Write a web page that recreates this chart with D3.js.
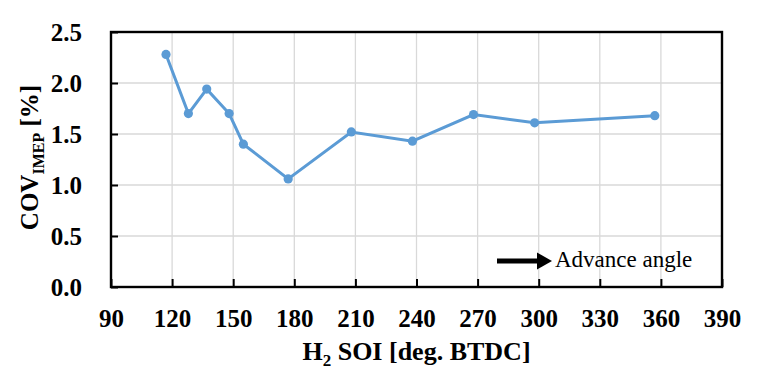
<!DOCTYPE html>
<html lang="en">
<meta charset="UTF-8">
<script src="https://d3js.org/d3.v7.min.js"></script>
<body style="margin:0;background:#fff">
<div id="chart"></div>
<script>
// data
const soi = [117, 128, 137, 148, 155, 177, 208, 238, 268, 298, 357];
const cov = [2.28, 1.70, 1.94, 1.70, 1.40, 1.06, 1.52, 1.43, 1.69, 1.61, 1.68];
const xTicks = [90, 120, 150, 180, 210, 240, 270, 300, 330, 360, 390];
const yTicks = [0, 0.5, 1.0, 1.5, 2.0, 2.5];

const width = 768, height = 373;
const margin = {top: 32, right: 46, bottom: 86, left: 111};
const serif = "Liberation Serif";

const svg = d3.select("#chart").append("svg")
  .attr("width", width).attr("height", height);

const x = d3.scaleLinear().domain([90, 390]).range([margin.left, width - margin.right]);
const y = d3.scaleLinear().domain([0, 2.5]).range([height - margin.bottom, margin.top]);

// grid
svg.append("g").selectAll("line").data(xTicks.slice(1, -1)).join("line")
  .attr("x1", d => x(d)).attr("x2", d => x(d))
  .attr("y1", y(0)).attr("y2", y(2.5))
  .attr("stroke", "#d9d9d9").attr("stroke-width", 1.3);
svg.append("g").selectAll("line").data(yTicks.slice(1, -1)).join("line")
  .attr("x1", x(90)).attr("x2", x(390))
  .attr("y1", d => y(d)).attr("y2", d => y(d))
  .attr("stroke", "#d9d9d9").attr("stroke-width", 1.3);

// axes with inward ticks
const xAxis = svg.append("g")
  .attr("transform", `translate(0,${y(0)})`)
  .call(d3.axisBottom(x).tickValues(xTicks).tickSize(-8).tickPadding(22).tickFormat(d3.format("d")));
const yAxis = svg.append("g")
  .attr("transform", `translate(${x(90)},0)`)
  .call(d3.axisLeft(y).tickValues(yTicks).tickSize(-7).tickPadding(29).tickFormat(d3.format(".1f")));

[xAxis, yAxis].forEach(g => {
  g.attr("font-family", serif).attr("font-size", 25).attr("font-weight", "bold");
  g.select(".domain").remove();
  g.selectAll(".tick line").attr("stroke", "#000").attr("stroke-width", 2);
  g.selectAll(".tick text")
    .attr("fill", "#000")
    .attr("font-family", serif)
    .attr("font-size", 25)
    .attr("font-weight", "bold");
});

// frame
svg.append("rect")
  .attr("x", x(90)).attr("y", y(2.5))
  .attr("width", x(390) - x(90)).attr("height", y(0) - y(2.5))
  .attr("fill", "none").attr("stroke", "#000").attr("stroke-width", 2.4);

// series
const pts = soi.map((d, i) => [d, cov[i]]);
svg.append("path").datum(pts)
  .attr("d", d3.line().x(d => x(d[0])).y(d => y(d[1])))
  .attr("fill", "none").attr("stroke", "#5b9bd5").attr("stroke-width", 3);
svg.append("g").selectAll("circle").data(pts).join("circle")
  .attr("cx", d => x(d[0])).attr("cy", d => y(d[1])).attr("r", 4.6)
  .attr("fill", "#5b9bd5");

// axis titles
const xt = svg.append("text")
  .attr("x", (x(90) + x(390)) / 2).attr("y", 360)
  .attr("text-anchor", "middle")
  .attr("font-family", serif).attr("font-weight", "bold").attr("font-size", 26);
xt.append("tspan").text("H");
xt.append("tspan").text("2").attr("dy", 6).attr("font-size", 17);
xt.append("tspan").text(" SOI [deg. BTDC]").attr("dy", -6);

const yt = svg.append("text")
  .attr("transform", `translate(38,${(y(0) + y(2.5)) / 2 - 2}) rotate(-90)`)
  .attr("text-anchor", "middle")
  .attr("font-family", serif).attr("font-weight", "bold").attr("font-size", 25);
yt.append("tspan").text("COV");
yt.append("tspan").text("IMEP").attr("dy", 6).attr("font-size", 16);
yt.append("tspan").text(" [%]").attr("dy", -6);

// annotation arrow
const ay = 261;
svg.append("line")
  .attr("x1", 497).attr("y1", ay).attr("x2", 540).attr("y2", ay)
  .attr("stroke", "#000").attr("stroke-width", 5);
svg.append("path")
  .attr("d", `M537,${ay - 8.5} L552,${ay} L537,${ay + 8.5} Z`)
  .attr("fill", "#000");
svg.append("text")
  .attr("x", 555).attr("y", 267)
  .attr("font-family", serif).attr("font-size", 23)
  .text("Advance angle");
</script>
</body>
</html>
